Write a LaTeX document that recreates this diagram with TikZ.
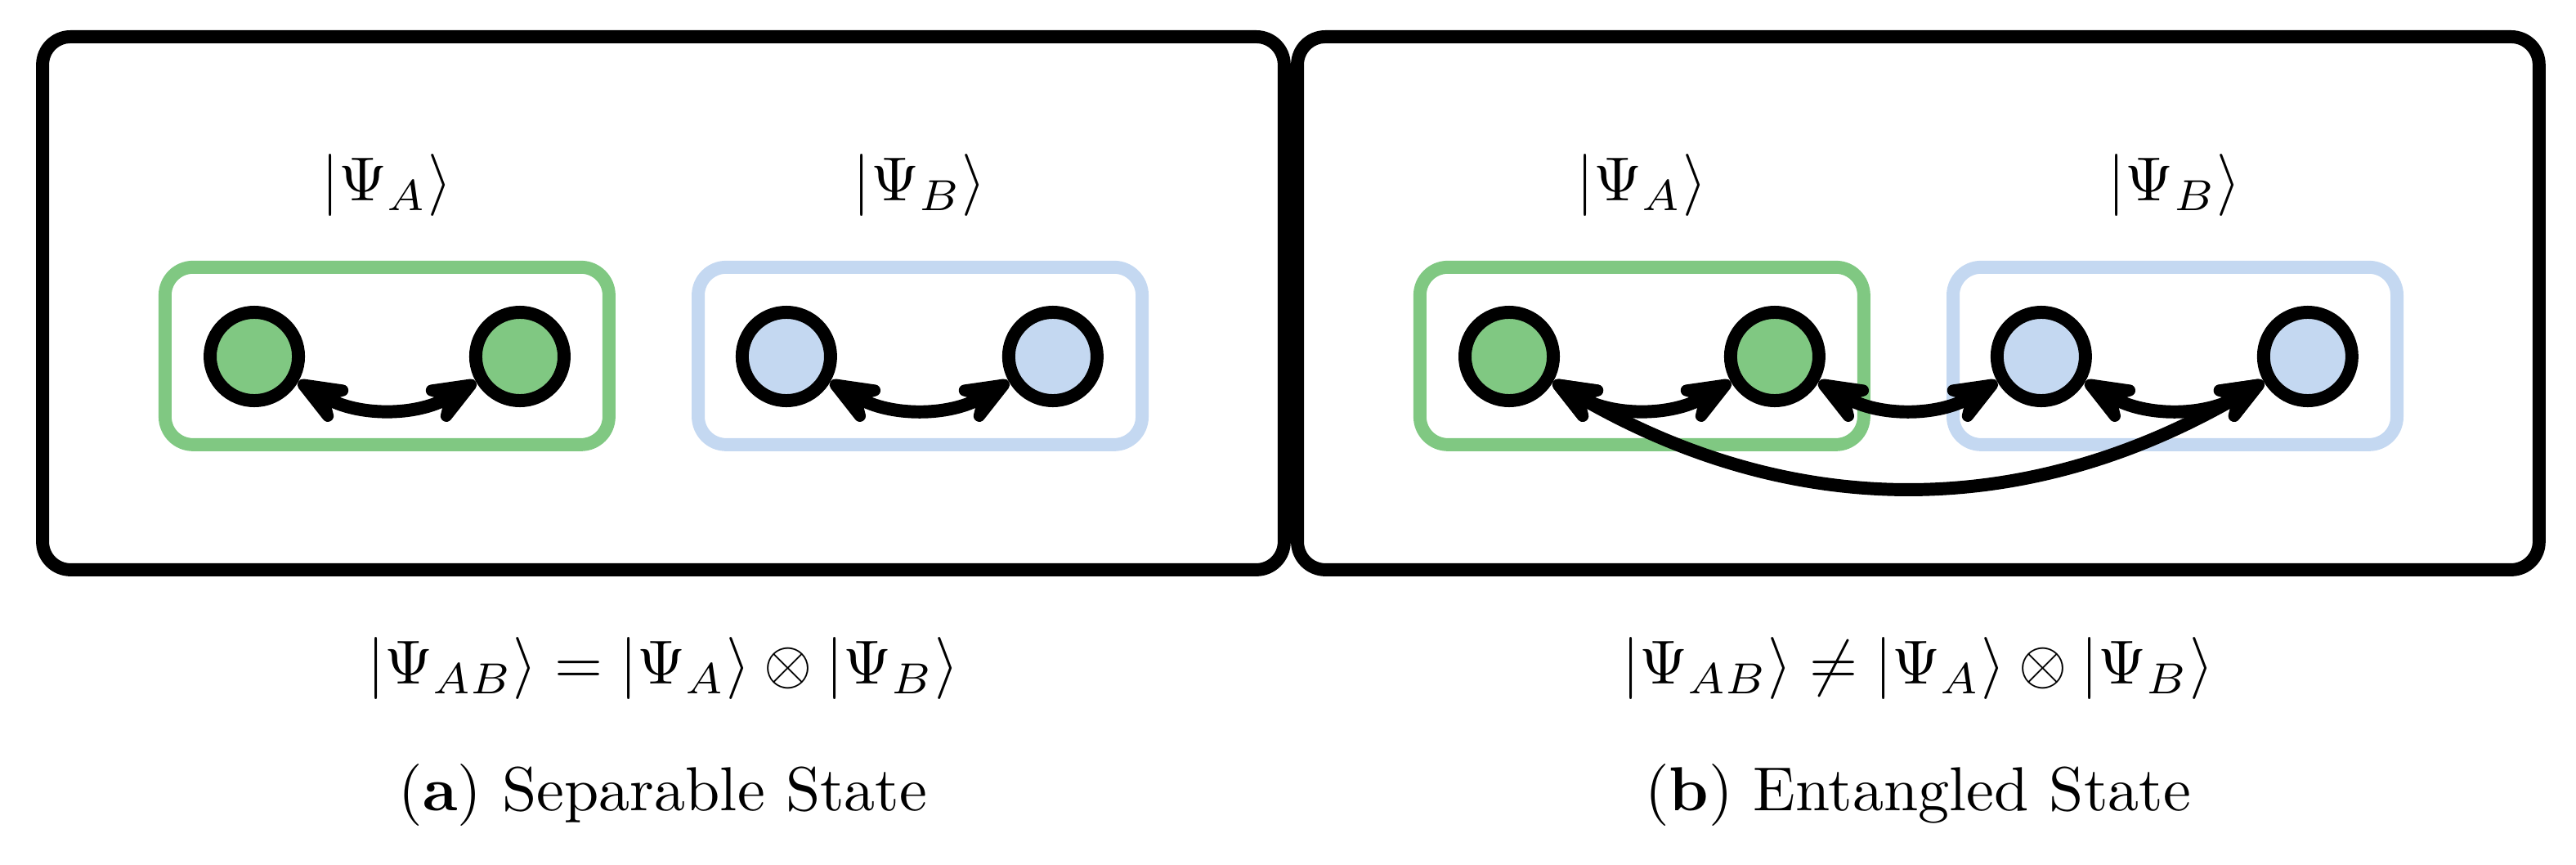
\documentclass[tikz,border=0pt]{standalone}
\usetikzlibrary{arrows.meta}

\definecolor{qgreen}{RGB}{128,200,130}
\definecolor{qblue}{RGB}{196,216,241}

\tikzset{
  panel/.style={line width=2.1pt, rounded corners=4.5pt},
  group/.style={line width=2.1pt, rounded corners=4.5pt},
  qubit/.style={circle, draw, line width=2.1pt, minimum size=0.5cm, inner sep=0pt},
  link/.style={line width=2.1pt, {Stealth[round, length=12pt, width=9.5pt, inset=4.5pt]}-{Stealth[round, length=12pt, width=9.5pt, inset=4.5pt]}},
}

\begin{document}
\begin{tikzpicture}
    \useasboundingbox (0,0) rectangle (14.577,4.894);

    % Panel (a): separable state
    \draw[panel] (0.241,1.670) rectangle (7.267,4.686);
    \draw[group, qgreen] (0.934,2.378) rectangle (3.446,3.382);
    \draw[group, qblue] (3.951,2.378) rectangle (6.463,3.382);

    \node[qubit, fill=qgreen] (a1) at (1.439,2.877) {};
    \node[qubit, fill=qgreen] (a2) at (2.942,2.877) {};
    \node[qubit, fill=qblue] (a3) at (4.450,2.877) {};
    \node[qubit, fill=qblue] (a4) at (5.958,2.877) {};

    \node[anchor=base] (psiAa) at (2.188,3.756) {$|\Psi_A\rangle$};
    \node[anchor=base] (psiBa) at (5.204,3.756) {$|\Psi_B\rangle$};

    \draw[link] (a1) to[bend right=30] (a2);
    \draw[link] (a3) to[bend right=30] (a4);

    \node[anchor=base] (eqa) at (3.752,1.022) {$|\Psi_{AB}\rangle = |\Psi_A\rangle \otimes |\Psi_B\rangle$};
    \node[anchor=base] (capa) at (3.752,0.305) {(\textbf{a}) Separable State};

    % Panel (b): entangled state
    \begin{scope}[xshift=7.101cm]
        \draw[panel] (0.241,1.670) rectangle (7.267,4.686);
        \draw[group, qgreen] (0.934,2.378) rectangle (3.446,3.382);
        \draw[group, qblue] (3.951,2.378) rectangle (6.463,3.382);

        \node[qubit, fill=qgreen] (b1) at (1.439,2.877) {};
        \node[qubit, fill=qgreen] (b2) at (2.942,2.877) {};
        \node[qubit, fill=qblue] (b3) at (4.450,2.877) {};
        \node[qubit, fill=qblue] (b4) at (5.958,2.877) {};

        \node[anchor=base] (psiAb) at (2.188,3.756) {$|\Psi_A\rangle$};
        \node[anchor=base] (psiBb) at (5.204,3.756) {$|\Psi_B\rangle$};

        \draw[link] (b1) to[bend right=30] (b2);
        \draw[link] (b2) to[bend right=30] (b3);
        \draw[link] (b3) to[bend right=30] (b4);
        \draw[link] (b1) to[bend right=30] (b4);

        \node[anchor=base] (eqb) at (3.752,1.022) {$|\Psi_{AB}\rangle \neq |\Psi_A\rangle \otimes |\Psi_B\rangle$};
        \node[anchor=base] (capb) at (3.752,0.305) {(\textbf{b}) Entangled State};
    \end{scope}
\end{tikzpicture}
\end{document}
